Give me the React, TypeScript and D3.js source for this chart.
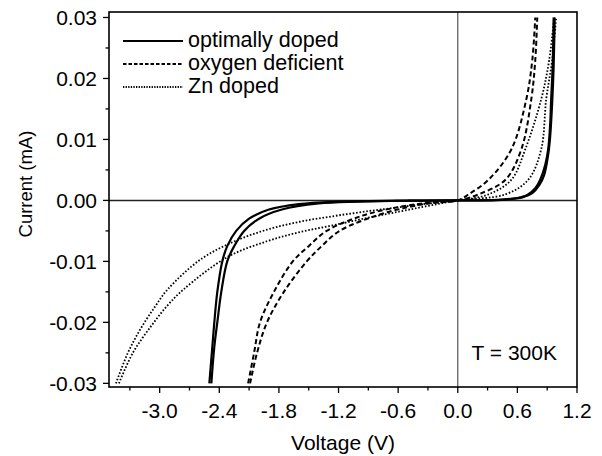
import React from "react";
import * as d3 from "d3";

const xTicksMajor = [-3.0, -2.4, -1.8, -1.2, -0.6, 0.0, 0.6, 1.2];
const xTicksMinor = [-3.3, -2.7, -2.1, -1.5, -0.9, -0.3, 0.3, 0.9];
const yTicksMajor = [0.03, 0.02, 0.01, 0.0, -0.01, -0.02, -0.03];
const yTicksMinor = [0.025, 0.015, 0.005, -0.005, -0.015, -0.025];

const seriesNames = ["optimally doped", "oxygen deficient", "Zn doped"];

// optimally doped (two sweeps)
const optV1 = [-2.5, -2.47, -2.45, -2.42, -2.37, -2.32, -2.23, -2.1, -1.9, -1.6, -1.2, -0.6, 0, 0.4, 0.6, 0.7, 0.78, 0.83, 0.88, 0.91, 0.93, 0.94, 0.955, 0.965];
const optI1 = [-0.03, -0.024, -0.02, -0.015, -0.01, -0.0075, -0.005, -0.003, -0.0015, -0.0006, -0.0002, -0.00005, 0, 0.0001, 0.0004, 0.0009, 0.002, 0.0034, 0.0058, 0.0084, 0.0125, 0.0166, 0.022, 0.03];
const optV2 = [-2.48, -2.45, -2.42, -2.38, -2.32, -2.25, -2.15, -2.0, -1.77, -1.4, -1.0, -0.5, 0, 0.45, 0.65, 0.75, 0.82, 0.87, 0.91, 0.93, 0.95, 0.965, 0.975];
const optI2 = [-0.03, -0.024, -0.02, -0.015, -0.01, -0.0075, -0.005, -0.003, -0.0015, -0.0005, -0.0002, -0.00005, 0, 0.0001, 0.0005, 0.0012, 0.0025, 0.0042, 0.0075, 0.0105, 0.016, 0.022, 0.03];

// oxygen deficient (two sweeps)
const oxyV1 = [-2.11, -2.05, -1.99, -1.85, -1.66, -1.5, -1.32, -0.96, -0.6, -0.3, 0, 0.11, 0.31, 0.54, 0.69, 0.75, 0.78];
const oxyI1 = [-0.03, -0.025, -0.02, -0.015, -0.01, -0.0075, -0.005, -0.0025, -0.0011, -0.0004, 0, 0.001, 0.0034, 0.0084, 0.0166, 0.023, 0.03];
const oxyV2 = [-2.09, -2.02, -1.92, -1.75, -1.52, -1.37, -1.19, -0.82, -0.5, -0.25, 0, 0.21, 0.48, 0.64, 0.74, 0.78, 0.8];
const oxyI2 = [-0.03, -0.025, -0.02, -0.015, -0.01, -0.0075, -0.005, -0.0025, -0.0011, -0.0004, 0, 0.001, 0.0034, 0.0084, 0.0166, 0.023, 0.03];

// Zn doped (two sweeps)
const znV1 = [-3.44, -3.32, -3.19, -3.05, -2.92, -2.59, -2.26, -1.92, -1.59, -1.26, -0.92, -0.58, -0.3, 0, 0.31, 0.54, 0.68, 0.84, 0.92, 0.97];
const znI1 = [-0.03, -0.025, -0.021, -0.0175, -0.0146, -0.0097, -0.0068, -0.0048, -0.0035, -0.0026, -0.0018, -0.0011, -0.0005, 0, 0.001, 0.0034, 0.0084, 0.0166, 0.023, 0.03];
const znV2 = [-3.41, -3.27, -3.09, -2.92, -2.76, -2.32, -1.92, -1.59, -1.26, -0.92, -0.58, -0.3, 0, 0.48, 0.71, 0.84, 0.89, 0.95, 0.99];
const znI2 = [-0.03, -0.025, -0.0207, -0.0172, -0.0146, -0.0093, -0.0067, -0.0052, -0.0041, -0.0029, -0.0018, -0.0009, 0, 0.001, 0.0034, 0.0084, 0.0166, 0.023, 0.03];

const curves = [
  { v: optV1, i: optI1, s: 0 },
  { v: optV2, i: optI2, s: 0 },
  { v: oxyV1, i: oxyI1, s: 1 },
  { v: oxyV2, i: oxyI2, s: 1 },
  { v: znV1, i: znI1, s: 2 },
  { v: znV2, i: znI2, s: 2 },
];

const styles = [
  { dash: "none", w: 2.2 },
  { dash: "5,3", w: 2 },
  { dash: "1.6,1.8", w: 1.8 },
];
const legendDash = ["none", "3.5,2", "1.3,1.3"];

const FONT = "'Liberation Sans', Arial, Helvetica, sans-serif";

export default function App() {
  const left = 109, right = 577, top = 12, bottom = 387;
  const x = d3.scaleLinear().domain([-3.51, 1.2]).range([left, right]);
  const y = d3.scaleLinear().domain([-0.0306, 0.0309]).range([bottom, top]);

  const line = d3
    .line<[number, number]>()
    .x((d) => x(d[0]))
    .y((d) => y(d[1]))
    .curve(d3.curveCatmullRom.alpha(0.5));

  const fmtY = (v: number) => (v === 0 ? "0.00" : d3.format(".2f")(v).replace("−", "-"));
  const fmtX = (v: number) => d3.format(".1f")(v).replace("−", "-");

  const legY = [41, 64, 87];

  return (
    <svg width={602} height={456} style={{ position: "absolute", left: 0, top: 0, background: "#fff" }} fontFamily={FONT}>
      <rect x={0} y={0} width={602} height={456} fill="#fff" />
      <defs>
        <clipPath id="plotclip">
          <rect x={left} y={top} width={right - left} height={bottom - top} />
        </clipPath>
      </defs>
      {/* zero lines */}
      <line x1={left} x2={right} y1={y(0)} y2={y(0)} stroke="#222" strokeWidth={1.5} />
      <line x1={x(0)} x2={x(0)} y1={top} y2={bottom} stroke="#555" strokeWidth={1.2} />

      {/* curves */}
      <g clipPath="url(#plotclip)">
        {curves.map((c, k) => (
          <path
            key={k}
            d={line(c.v.map((vv, j) => [vv, c.i[j]] as [number, number])) || ""}
            fill="none"
            stroke="#000"
            strokeWidth={styles[c.s].w}
            strokeDasharray={styles[c.s].dash}
          />
        ))}
      </g>

      {/* frame */}
      <rect x={left} y={top} width={right - left} height={bottom - top} fill="none" stroke="#000" strokeWidth={1.6} />

      {/* y ticks */}
      {yTicksMajor.map((t) => (
        <g key={"ym" + t}>
          <line x1={left - 6} x2={left} y1={y(t)} y2={y(t)} stroke="#000" strokeWidth={1.3} />
          <text x={97} y={y(t) + 7.5} textAnchor="end" fontSize={21} fill="#000">
            {fmtY(t)}
          </text>
        </g>
      ))}
      {yTicksMinor.map((t) => (
        <line key={"yn" + t} x1={left - 3.5} x2={left} y1={y(t)} y2={y(t)} stroke="#000" strokeWidth={1.3} />
      ))}

      {/* x ticks */}
      {xTicksMajor.map((t) => (
        <g key={"xm" + t}>
          <line x1={x(t)} x2={x(t)} y1={bottom} y2={bottom + 6} stroke="#000" strokeWidth={1.3} />
          <text x={x(t)} y={418} textAnchor="middle" fontSize={21} fill="#000">
            {fmtX(t)}
          </text>
        </g>
      ))}
      {xTicksMinor.map((t) => (
        <line key={"xn" + t} x1={x(t)} x2={x(t)} y1={bottom} y2={bottom + 3.5} stroke="#000" strokeWidth={1.3} />
      ))}

      {/* axis titles */}
      <text x={(left + right) / 2} y={450} textAnchor="middle" fontSize={21} fill="#000">
        Voltage (V)
      </text>
      <text transform={`translate(32,184) rotate(-90)`} textAnchor="middle" fontSize={18.5} fill="#000">
        Current (mA)
      </text>

      {/* legend */}
      {seriesNames.map((n, k) => (
        <g key={n}>
          <line x1={123} x2={183} y1={legY[k]} y2={legY[k]} stroke="#000" strokeWidth={styles[k].w} strokeDasharray={legendDash[k]} />
          <text x={188} y={legY[k] + 6} fontSize={21.5} fill="#000">
            {n}
          </text>
        </g>
      ))}

      {/* annotation */}
      <text x={557} y={360} textAnchor="end" fontSize={21} fill="#000">
        T = 300K
      </text>
    </svg>
  );
}
